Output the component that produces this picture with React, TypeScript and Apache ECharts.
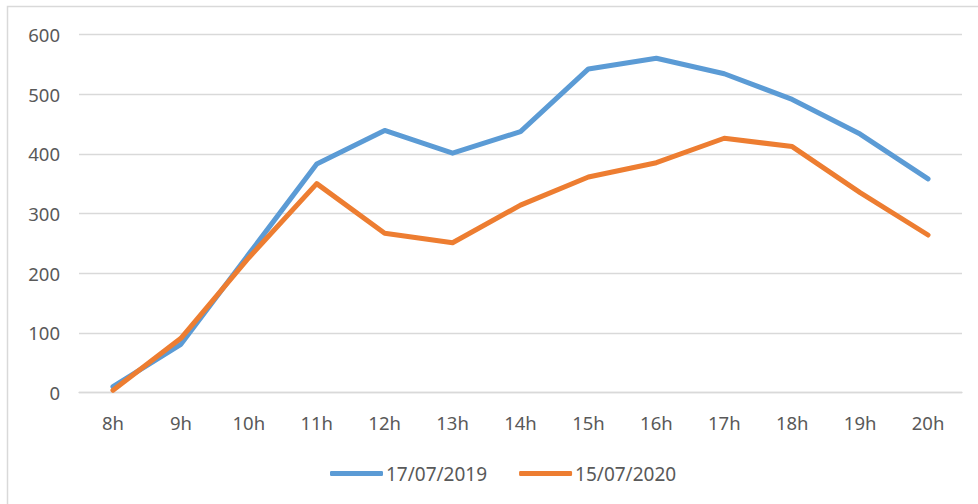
import React, { useEffect, useRef } from "react";
import * as echarts from "echarts";

const categories = ["8h", "9h", "10h", "11h", "12h", "13h", "14h", "15h", "16h", "17h", "18h", "19h", "20h"];
const series2019 = [10, 81, 232, 383, 439, 401, 437, 542, 560, 534, 491, 433, 358];
const series2020 = [4, 91, 226, 350, 267, 251, 314, 361, 385, 426, 412, 335, 264];
const seriesNames = ["17/07/2019", "15/07/2020"];
const colors = ["#5B9BD5", "#ED7D31"];

export default function App() {
  const ref = useRef<HTMLDivElement>(null);
  useEffect(() => {
    if (!ref.current) return;
    const chart = echarts.init(ref.current, undefined, { renderer: "svg" });
    const font = "'Noto Sans', Roboto, sans-serif";
    chart.setOption({
      animation: false,
      backgroundColor: "#ffffff",
      textStyle: { fontFamily: font },
      graphic: [
        {
          type: "rect",
          shape: { x: 7.5, y: 6.5, width: 1000, height: 1000 },
          style: { fill: "none", stroke: "#d9d9d9", lineWidth: 1.5 },
          silent: true,
        },
      ],
      grid: { left: 79, right: 16, top: 34.3, bottom: 111.3 },
      legend: {
        left: 325,
        top: 459,
        icon: "roundRect",
        itemWidth: 53,
        itemHeight: 5,
        itemGap: 32,
        textStyle: { color: "#595959", fontSize: 19, fontFamily: font, padding: [0, 0, 0, -2] },
        data: seriesNames,
      },
      xAxis: {
        type: "category",
        data: categories,
        boundaryGap: true,
        axisLine: { show: true, lineStyle: { color: "#d9d9d9", width: 1.3 } },
        axisTick: { show: false },
        axisLabel: { color: "#595959", fontSize: 18.5, margin: 20, fontFamily: font },
      },
      yAxis: {
        type: "value",
        min: 0,
        max: 600,
        interval: 100,
        axisLine: { show: false },
        axisTick: { show: false },
        splitLine: { lineStyle: { color: "#d9d9d9", width: 1.3 } },
        axisLabel: { color: "#595959", fontSize: 18.5, margin: 19, fontFamily: font },
      },
      series: [
        {
          name: seriesNames[0],
          type: "line",
          data: series2019,
          symbol: "none",
          lineStyle: { color: colors[0], width: 5, cap: "round", join: "round" },
          itemStyle: { color: colors[0] },
        },
        {
          name: seriesNames[1],
          type: "line",
          data: series2020,
          symbol: "none",
          lineStyle: { color: colors[1], width: 5, cap: "round", join: "round" },
          itemStyle: { color: colors[1] },
        },
      ],
    });
    return () => chart.dispose();
  }, []);
  return (
    <div
      ref={ref}
      style={{ position: "fixed", left: 0, top: 0, width: 978, height: 504 }}
    />
  );
}
